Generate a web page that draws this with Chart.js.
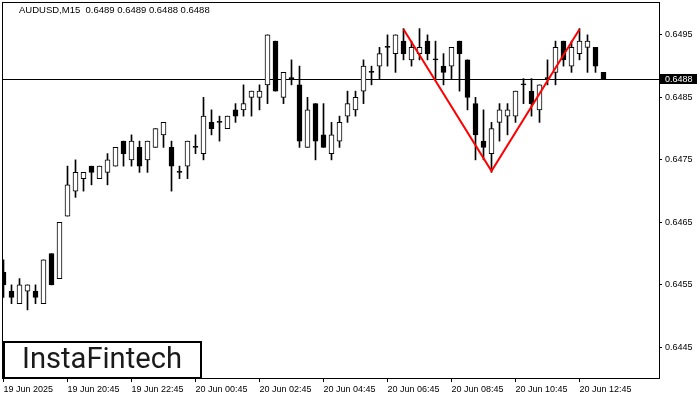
<!DOCTYPE html>
<html>
<head>
<meta charset="utf-8">
<script src="https://cdn.jsdelivr.net/npm/chart.js@4.4.1/dist/chart.umd.min.js"></script>
<style>
  html, body { margin: 0; padding: 0; background: #fff; }
</style>
</head>
<body>
<canvas id="chart" width="700" height="400"></canvas>
<script>
  // Data block
  const symbol = 'AUDUSD,M15';
  const opens  = [0.6457,0.6454,0.6452,0.6454,0.6454,0.6452,0.6460,0.6456,0.6466,0.6470,
                  0.6472,0.6474,0.6472,0.6473,0.6474,0.6478,0.6475,0.6477,0.6475,0.6477,
                  0.6479,0.6477,0.6473,0.6474,0.6477,0.6476,0.6481,0.6481,0.6480,0.6483,
                  0.6483,0.6485,0.6485,0.6487,0.6494,0.6485,0.6488,0.6487,0.6477,0.6484,
                  0.6479,0.6476,0.6478,0.6482,0.6483,0.6486,0.6489,0.6490,0.6493,0.6492,
                  0.6494,0.6491,0.6492,0.6494,0.6491,0.6490,0.6490,0.6494,0.6491,0.6484,
                  0.6478,0.6476,0.6481,0.6482,0.6482,0.6487,0.6486,0.6483,0.6488,0.6489,
                  0.6494,0.6490,0.6492,0.6493,0.6493,0.6489];
  const highs  = [0.6459,0.6455,0.6456,0.6455,0.6455,0.6459,0.6460,0.6465,0.6474,0.6475,
                  0.6473,0.6474,0.6474,0.6476,0.6477,0.6478,0.6479,0.6478,0.6478,0.6480,
                  0.6481,0.6478,0.6474,0.6478,0.6479,0.6485,0.6483,0.6482,0.6482,0.6484,
                  0.6487,0.6486,0.6487,0.6495,0.6494,0.6489,0.6491,0.6490,0.6485,0.6484,
                  0.6484,0.6481,0.6482,0.6486,0.6486,0.6491,0.6490,0.6493,0.6495,0.6495,
                  0.6496,0.6494,0.6496,0.6495,0.6494,0.6492,0.6493,0.6494,0.6491,0.6485,
                  0.6483,0.6481,0.6484,0.6484,0.6486,0.6488,0.6488,0.6487,0.6491,0.6494,
                  0.6494,0.6494,0.6496,0.6495,0.6493,0.6489];
  const lows   = [0.6453,0.6452,0.6452,0.6451,0.6452,0.6452,0.6455,0.6456,0.6466,0.6469,
                  0.6470,0.6471,0.6472,0.6471,0.6474,0.6474,0.6474,0.6473,0.6473,0.6477,
                  0.6477,0.6470,0.6472,0.6472,0.6476,0.6475,0.6479,0.6478,0.6480,0.6481,
                  0.6482,0.6482,0.6483,0.6484,0.6486,0.6484,0.6487,0.6477,0.6477,0.6475,
                  0.6477,0.6475,0.6477,0.6481,0.6482,0.6484,0.6487,0.6488,0.6490,0.6489,
                  0.6491,0.6490,0.6491,0.6491,0.6488,0.6487,0.6488,0.6486,0.6483,0.6475,
                  0.6475,0.6473,0.6478,0.6479,0.6481,0.6484,0.6482,0.6481,0.6487,0.6487,
                  0.6490,0.6489,0.6491,0.6489,0.6489,0.6488];
  const closes = [0.6455,0.6453,0.6455,0.6455,0.6453,0.6459,0.6455,0.6465,0.6471,0.6473,
                  0.6473,0.6473,0.6474,0.6475,0.6477,0.6476,0.6478,0.6474,0.6478,0.6480,
                  0.6481,0.6474,0.6473,0.6478,0.6477,0.6482,0.6480,0.6481,0.6482,0.6482,
                  0.6484,0.6486,0.6486,0.6495,0.6486,0.6489,0.6488,0.6478,0.6483,0.6478,
                  0.6477,0.6479,0.6481,0.6484,0.6485,0.6490,0.6489,0.6492,0.6493,0.6495,
                  0.6492,0.6493,0.6493,0.6492,0.6491,0.6489,0.6493,0.6492,0.6485,0.6479,
                  0.6477,0.6480,0.6483,0.6483,0.6486,0.6487,0.6484,0.6487,0.6488,0.6493,
                  0.6491,0.6493,0.6494,0.6494,0.6490,0.6488];

  const tickPos    = [1, 9, 17, 25, 33, 41, 49, 57, 65, 73];
  const tickLabels = ['19 Jun 2025', '19 Jun 20:45', '19 Jun 22:45', '20 Jun 00:45', '20 Jun 02:45',
                      '20 Jun 04:45', '20 Jun 06:45', '20 Jun 08:45', '20 Jun 10:45', '20 Jun 12:45'];
  const priceTicks = [0.6445, 0.6455, 0.6465, 0.6475, 0.6485, 0.6495];

  // double top pattern (red zigzag)
  const patternX = [51, 62, 73];
  const patternY = [0.64959, 0.64732, 0.64959];

  const last = opens.length - 1;
  const lastPrice = closes[last];

  // Setup block
  const idx    = opens.map((_, i) => i + 1);
  const wicks  = idx.map((x, i) => ({ x, y: [lows[i], highs[i]] }));
  const bodies = idx.map((x, i) => ({ x, y: [opens[i], closes[i]] }));
  const bodyColors = idx.map((_, i) => closes[i] > opens[i] ? '#ffffff' : '#000000');

  Chart.defaults.font.family = "'Liberation Sans', Arial, sans-serif";
  Chart.defaults.font.size = 9;
  Chart.defaults.color = '#000';

  // Plugin - price line, frame, title, logo
  const mt4Deco = {
    id: 'mt4Deco',
    beforeDatasetsDraw(chart) {
      const { ctx, chartArea: a, scales: { y } } = chart;
      const py = Math.round(y.getPixelForValue(lastPrice)) + 0.5;
      ctx.save();
      ctx.strokeStyle = '#000';
      ctx.lineWidth = 1;
      ctx.beginPath();
      ctx.moveTo(a.left, py);
      ctx.lineTo(a.right, py);
      ctx.stroke();
      ctx.restore();
    },
    afterDraw(chart) {
      const { ctx, chartArea: a, scales: { y } } = chart;
      ctx.save();
      // frame
      ctx.strokeStyle = '#000';
      ctx.lineWidth = 1;
      ctx.strokeRect(a.left - 0.5, a.top - 0.5, a.right - a.left + 1, a.bottom - a.top + 1);

      // price tag
      const py = Math.round(y.getPixelForValue(lastPrice));
      ctx.fillStyle = '#000';
      ctx.fillRect(a.right + 1, py - 5, 37, 10);
      ctx.fillStyle = '#fff';
      ctx.font = "9px 'Liberation Sans', Arial, sans-serif";
      ctx.textBaseline = 'middle';
      ctx.textAlign = 'left';
      ctx.fillText(lastPrice.toFixed(4), a.right + 6, py + 0.5);

      // title
      ctx.fillStyle = '#000';
      ctx.font = "9.5px 'Liberation Sans', Arial, sans-serif";
      const head = symbol + '  ' + [opens[last], highs[last], lows[last], closes[last]].map(v => v.toFixed(4)).join(' ');
      ctx.fillText(head, 19, 10.5);

      // logo
      ctx.fillStyle = '#fff';
      ctx.fillRect(4, 342, 197, 36);
      ctx.lineWidth = 2;
      ctx.strokeStyle = '#000';
      ctx.strokeRect(4, 342, 197, 36);
      let size = 26;
      ctx.font = `400 ${size}px Roboto, 'Liberation Sans', sans-serif`;
      size = size * 160 / ctx.measureText('InstaFintech').width;
      ctx.font = `400 ${size}px Roboto, 'Liberation Sans', sans-serif`;
      ctx.fillStyle = '#1a1a1a';
      ctx.textAlign = 'center';
      ctx.textBaseline = 'alphabetic';
      ctx.fillText('InstaFintech', 102, 368);
      ctx.restore();
    }
  };

  // Config block
  const config = {
    type: 'bar',
    data: {
      datasets: [
        {
          type: 'line',
          data: patternX.map((x, i) => ({ x, y: patternY[i] })),
          borderColor: '#ff0000',
          borderWidth: 2,
          pointRadius: 0,
          tension: 0,
          order: 0,
        },
        {
          data: bodies,
          backgroundColor: bodyColors,
          borderColor: '#000',
          borderWidth: 1,
          borderSkipped: false,
          barThickness: 5,
          maxBarThickness: 5,
          minBarLength: 1,
          grouped: false,
          order: 1,
        },
        {
          data: wicks,
          backgroundColor: '#000',
          borderWidth: 0,
          barThickness: 1,
          maxBarThickness: 1,
          grouped: false,
          order: 2,
        },
      ]
    },
    options: {
      responsive: false,
      animation: false,
      devicePixelRatio: 1,
      layout: { padding: { left: 3, top: 3, right: 0, bottom: 0 } },
      plugins: {
        legend: { display: false },
        tooltip: { enabled: false },
      },
      scales: {
        x: {
          type: 'linear',
          min: 0.9375,
          max: 82.9375,
          offset: false,
          afterBuildTicks: s => { s.ticks = tickPos.map(v => ({ value: v })); },
          afterFit: s => { s.height = 22; s.paddingLeft = 0; s.paddingRight = 0; },
          grid: { drawOnChartArea: false, tickLength: 4, color: '#000', offset: false },
          border: { display: false },
          ticks: {
            autoSkip: false,
            maxRotation: 0,
            align: 'start',
            padding: 2,
            color: '#000',
            callback: (v, i) => tickLabels[i],
          }
        },
        y: {
          type: 'linear',
          position: 'right',
          min: 0.64401,
          max: 0.65001,
          afterBuildTicks: s => { s.ticks = priceTicks.map(v => ({ value: v })); },
          afterFit: s => { s.width = 41; s.paddingTop = 0; s.paddingBottom = 0; },
          grid: { drawOnChartArea: false, tickLength: 3, color: '#000' },
          border: { display: false },
          ticks: {
            padding: 3,
            color: '#000',
            callback: v => v.toFixed(4),
          }
        }
      }
    },
    plugins: [mt4Deco]
  };

  // render block
  const mychart = new Chart(document.getElementById('chart'), config);
</script>
</body>
</html>
